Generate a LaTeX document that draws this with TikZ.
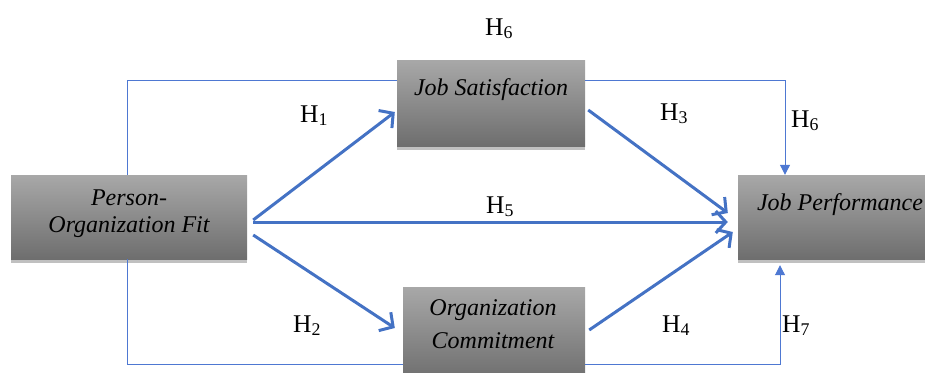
\documentclass[tikz,border=0pt]{standalone}
\usepackage{fontspec}
\setmainfont{Liberation Serif}
\usetikzlibrary{arrows.meta,shadows}
\definecolor{lblue}{RGB}{68,114,196}
\definecolor{tblue}{RGB}{78,120,210}
\definecolor{gtop}{RGB}{168,168,168}
\definecolor{gbot}{RGB}{110,110,110}
\definecolor{gshadow}{RGB}{192,192,192}
\begin{document}
\begin{tikzpicture}[x=1pt,y=-1pt,
  box/.style={rectangle, inner sep=0pt, draw=none, top color=gtop, bottom color=gbot,
    general shadow={fill=gshadow, shadow yshift=-4pt}},
  lbl/.style={inner sep=0pt, anchor=base, font=\fontsize{24}{27}\selectfont\itshape},
  hl/.style={inner sep=0pt, anchor=base west, font=\fontsize{25.5}{28}\selectfont},
  thickarrow/.style={draw=lblue, line width=3pt, -{Straight Barb[length=10pt,width=22pt]}},
  thinline/.style={draw=tblue, line width=1pt},
  thinarrow/.style={thinline, -{Triangle[length=10pt,width=10pt]}}]
\useasboundingbox (0,0) rectangle (925,372);
\clip (0,0) rectangle (925,372);
% boxes
\node[box, minimum width=236pt, minimum height=84pt] (pof) at (129,217) {};
\node[box, minimum width=188pt, minimum height=86pt] (js) at (491,103) {};
\node[box, minimum width=192pt, minimum height=84pt] (jp) at (834,217) {};
\node[box, minimum width=182pt, minimum height=93pt] (oc) at (494,333.5) {};
% box texts
\node[lbl] (pof1) at (129,205) {Person-};
\node[lbl] (pof2) at (129,232) {Organization Fit};
\node[lbl] (jst) at (491,95) {Job Satisfaction};
\node[lbl] (jpt) at (840,210) {Job Performance};
\node[lbl] (oc1) at (493,315) {Organization};
\node[lbl] (oc2) at (493,348) {Commitment};
% helper coordinates
\coordinate (ytop) at (0,80);
\coordinate (ybot) at (0,364);
\coordinate (xl) at (127,0);
\coordinate (xr) at (785,0);
\coordinate (xr2) at (780,0);
% thin connectors
\draw[thinline] (pof.north -| xl) |- (js.west |- ytop);
\draw[thinarrow] (js.east |- ytop) -| (jp.north -| xr);
\draw[thinline] (pof.south -| xl) |- (oc.west |- ybot);
\draw[thinarrow, shorten >=6pt] (oc.east |- ybot) -| (jp.south -| xr2);
% thick arrows
\draw[thickarrow] ([xshift=6pt,yshift=-3pt]pof.east) -- ([xshift=-2pt,yshift=-9pt]js.west);
\draw[thickarrow] ([xshift=6pt,yshift=-5pt]pof.east) -- ([xshift=-10pt,yshift=-5pt]jp.west);
\draw[thickarrow] ([xshift=6pt,yshift=-18pt]pof.east) -- ([xshift=-8pt,yshift=5.5pt]oc.west);
\draw[thickarrow] ([xshift=3pt,yshift=-7pt]js.east) -- ([xshift=-10pt,yshift=4pt]jp.west);
\draw[thickarrow] ([xshift=4pt,yshift=3.5pt]oc.east) -- ([xshift=-5pt,yshift=-15pt]jp.west);
% hypothesis labels
\node[hl] (h6a) at (485,35) {H\textsubscript{6}};
\node[hl] (h1) at (300,122) {H\textsubscript{1}};
\node[hl] (h3) at (660,120) {H\textsubscript{3}};
\node[hl] (h6b) at (791,127) {H\textsubscript{6}};
\node[hl] (h5) at (486,213) {H\textsubscript{5}};
\node[hl] (h2) at (293,332) {H\textsubscript{2}};
\node[hl] (h4) at (662,332) {H\textsubscript{4}};
\node[hl] (h7) at (782,332) {H\textsubscript{7}};
\end{tikzpicture}
\end{document}
